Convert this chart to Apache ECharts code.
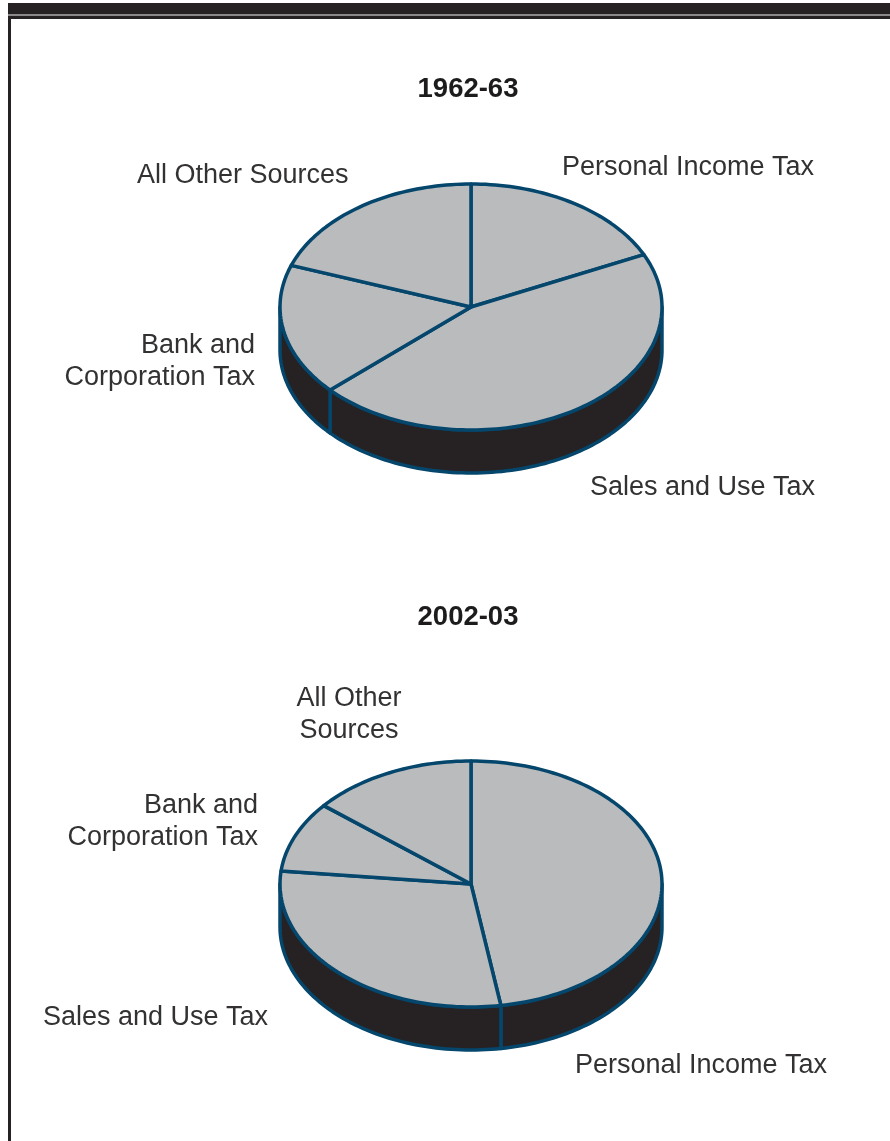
<!DOCTYPE html>
<html>
<head>
<meta charset="utf-8">
<style>html,body{margin:0;padding:0;background:#fff}#main{width:890px;height:1141px}</style>
<script src="https://cdn.jsdelivr.net/npm/echarts@6/dist/echarts.min.js"></script>
</head>
<body>
<div id="main"></div>
<script>
// Revenue shares (percent), clockwise from twelve o'clock
const sources = ['Personal Income Tax', 'Sales and Use Tax', 'Bank and Corporation Tax', 'All Other Sources'];
const shares1962 = [18.0, 45.2, 17.3, 19.5];
const shares2002 = [47.5, 29.2, 9.3, 14.0];
const periods = ['1962-63', '2002-03'];

const TEXT = '#333132', FACE = '#b9bbbd', WALL = '#262223', EDGE = '#04466c';
const RX = 191, RY = 123, DEPTH = 43, STEP = 1.5;
const FONT = 'Liberation Sans, Arial, sans-serif';

// Point on the tilted disc; angle in degrees clockwise from the top
function rim(cx, cy, deg, drop) {
  const a = deg * Math.PI / 180;
  return [cx + RX * Math.sin(a), cy - RY * Math.cos(a) + (drop || 0)];
}
function arc(cx, cy, from, to, drop) {
  const pts = [];
  const n = Math.max(1, Math.ceil(Math.abs(to - from) / STEP));
  for (let i = 0; i <= n; i++) pts.push(rim(cx, cy, from + (to - from) * i / n, drop));
  return pts;
}

// One series draws one disc: side wall of the front half, then the top face
function discSeries(shares, cx, cy) {
  let run = 0;
  const rows = shares.map(v => { const r = [v, run]; run += v; return r; });
  return {
    type: 'custom',
    coordinateSystem: 'none',
    silent: true,
    animation: false,
    data: rows,
    renderItem(params, api) {
      const from = api.value(1) * 3.6;
      const to = (api.value(1) + api.value(0)) * 3.6;
      const children = [];
      const wallFrom = Math.max(from, 90), wallTo = Math.min(to, 270);
      if (wallTo > wallFrom) {
        children.push({
          type: 'polygon', z2: 1,
          shape: { points: arc(cx, cy, wallFrom, wallTo, 0).concat(arc(cx, cy, wallTo, wallFrom, DEPTH)) },
          style: { fill: WALL, stroke: EDGE, lineWidth: 3.5, lineJoin: 'round' }
        });
      }
      children.push({
        type: 'polygon', z2: 2,
        shape: { points: [[cx, cy]].concat(arc(cx, cy, from, to, 0)) },
        style: { fill: FACE, stroke: EDGE, lineWidth: 3.5, lineJoin: 'round' }
      });
      return { type: 'group', children };
    }
  };
}

function label(text, x, y, align) {
  return {
    type: 'text', x, y, silent: true,
    style: { text, x: 0, y: 0, fill: TEXT, font: '27px ' + FONT, align, verticalAlign: 'middle', lineHeight: 32 }
  };
}

const chart = echarts.init(document.getElementById('main'), null, { renderer: 'canvas' });
chart.setOption({
  backgroundColor: '#ffffff',
  animation: false,
  title: [
    { text: periods[0], left: 463, top: 70, textAlign: 'center', textStyle: { color: '#1d1b1c', fontFamily: FONT, fontSize: 27.5, fontWeight: 'bold' } },
    { text: periods[1], left: 463, top: 598, textAlign: 'center', textStyle: { color: '#1d1b1c', fontFamily: FONT, fontSize: 27.5, fontWeight: 'bold' } }
  ],
  series: [discSeries(shares1962, 471, 307), discSeries(shares2002, 471, 884)],
  graphic: [
    // Page frame: heavy rule, hairline, inner rule, left edge
    { type: 'rect', silent: true, shape: { x: 8, y: 3, width: 882, height: 11 }, style: { fill: WALL } },
    { type: 'rect', silent: true, shape: { x: 8, y: 14, width: 882, height: 2 }, style: { fill: '#8c8a8b' } },
    { type: 'rect', silent: true, shape: { x: 8, y: 16, width: 882, height: 3 }, style: { fill: WALL } },
    { type: 'rect', silent: true, shape: { x: 8, y: 16, width: 3, height: 1125 }, style: { fill: WALL } },
    label(sources[3], 137, 176, 'left'),
    label(sources[0], 562, 168, 'left'),
    label('Bank and\nCorporation Tax', 255, 362, 'right'),
    label(sources[1], 590, 488, 'left'),
    label('All Other\nSources', 349, 715, 'center'),
    label('Bank and\nCorporation Tax', 258, 822, 'right'),
    label(sources[1], 43, 1018, 'left'),
    label(sources[0], 575, 1066, 'left')
  ]
});
</script>
</body>
</html>
